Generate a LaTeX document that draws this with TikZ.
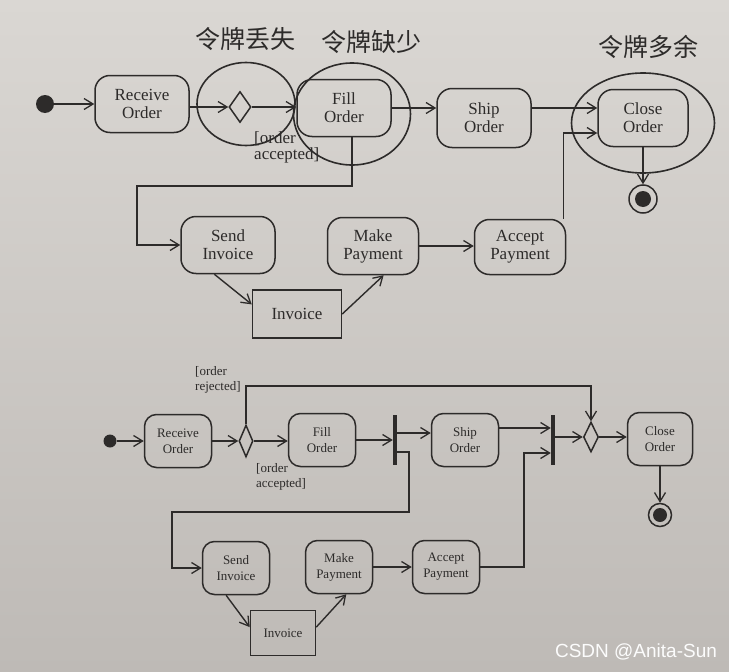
\documentclass[tikz,border=0pt]{standalone}
\usepackage{fontspec}
\setmainfont{Liberation Serif}
\newfontfamily\cjk{Noto Sans CJK SC}
\newfontfamily\wmfont{Liberation Sans}
\usetikzlibrary{arrows.meta, positioning, shapes.geometric}
\definecolor{paper}{RGB}{218,215,211}
\definecolor{paperdark}{RGB}{190,186,182}
\definecolor{ink}{RGB}{45,43,42}

\begin{document}
\begin{tikzpicture}[
    x=1pt, y=-1pt,
    every node/.style={text=ink},
    act node/.style={draw=ink, line width=1.5pt, rounded corners=15pt, align=center,
      minimum width=94pt, minimum height=57pt, inner sep=0pt,
      font=\fontsize{17}{18}\selectfont},
    small act/.style={act node, rounded corners=12pt, minimum width=67pt,
      minimum height=53pt, font=\fontsize{13}{16}\selectfont},
    obj node/.style={draw=ink, line width=1.5pt, inner sep=0pt, minimum width=89pt,
      minimum height=48pt, font=\fontsize{17}{18}\selectfont},
    dec node/.style={diamond, draw=ink, line width=1.5pt, inner sep=0pt,
      minimum width=22pt, minimum height=31pt},
    bar node/.style={fill=ink, inner sep=0pt, minimum width=4pt, minimum height=50pt},
    start node/.style={circle, fill=ink, inner sep=0pt},
    end node/.style={circle, draw=ink, line width=1.5pt, inner sep=0pt,
      path picture={\fill[ink] (path picture bounding box.center) circle (#1);}},
    end node/.default=8pt,
    ring/.style={ellipse, draw=ink, line width=1.6pt, inner sep=0pt},
    guard/.style={align=left, inner sep=0pt, anchor=north west},
    flow/.style={draw=ink, line width=1.4pt,
      -{Straight Barb[length=9pt, width=11pt, line width=1.3pt]}},
    every edge/.style={flow}
  ]
  % Background
  \shade[top color=paper, bottom color=paperdark] (0,0) rectangle (729,672);
  \useasboundingbox (0,0) rectangle (729,672);

  % Nodes, first diagram
  \node[start node, minimum size=18pt] (Start1) at (45,104) {};
  \node[act node] (Recv1) at (142,104) {Receive\\Order};
  \node[dec node] (Dec1) at (240,107) {};
  \node[act node] (Fill1) at (344,108) {Fill\\Order};
  \node[act node, minimum height=59pt] (Ship1) at (484,118) {Ship\\Order};
  \node[act node, minimum width=90pt] (Close1) at (643,118) {Close\\Order};
  \node[end node=8pt, minimum size=28pt] (End1) at (643,199) {};
  \node[act node] (Send1) at (228,245) {Send\\Invoice};
  \node[act node, minimum width=91pt] (Pay1) at (373,246) {Make\\Payment};
  \node[act node, minimum width=91pt, minimum height=55pt] (Acc1) at (520,247) {Accept\\Payment};
  \node[obj node] (Inv1) at (297,314) {Invoice};
  \node[guard, font=\fontsize{17}{16}\selectfont] (AccLbl1) at (254,132) {[order\\accepted]};
  \coordinate (Turn1) at (137,186);

  % Token rings and their labels
  \node[ring, minimum width=98pt, minimum height=83pt] (Ring1) at (246,104) {};
  \node[ring, minimum width=117pt, minimum height=102pt] (Ring2) at (352,114) {};
  \node[ring, minimum width=143pt, minimum height=100pt] (Ring3) at (643,123) {};
  \node[font=\cjk\fontsize{25}{25}\selectfont] (Lost) at (245,39) {令牌丢失};
  \node[font=\cjk\fontsize{25}{25}\selectfont] (Lack) at (371,42) {令牌缺少};
  \node[font=\cjk\fontsize{25}{25}\selectfont] (Extra) at (648,47) {令牌多余};

  % Edges, first diagram
  \draw (Start1) edge (Recv1);
  \draw (Recv1.east |- Dec1) edge (Dec1);
  \draw (Dec1) edge (Fill1.west |- Dec1);
  \draw (Fill1.east) edge (Fill1.east -| Ship1.west);
  \draw ([yshift=10pt]Ship1.east) edge ([yshift=10pt]Ship1.east -| Close1.west);
  \draw[flow] ([xshift=8pt]Fill1.south) |- (Turn1) |- (Send1.west);
  \draw[flow] ([xshift=-3pt]Acc1.north east) |- ([yshift=-15pt]Close1.west);
  \draw (Close1) edge (End1);
  \draw (Send1.245) edge (Inv1.168);
  \draw (Inv1.east) edge (Pay1.290);
  \draw (Pay1.east) edge (Pay1.east -| Acc1.west);

  % Nodes, second diagram
  \node[start node, minimum size=13pt] (Start2) at (110,441) {};
  \node[small act] (Recv2) at (178,441) {Receive\\Order};
  \node[dec node, minimum width=14pt, minimum height=32pt] (Dec2) at (246,441) {};
  \node[small act] (Fill2) at (322,440) {Fill\\Order};
  \node[bar node] (Fork2) at (395,440) {};
  \node[small act] (Ship2) at (465,440) {Ship\\Order};
  \node[bar node] (Join2) at (553,440) {};
  \node[dec node, minimum width=15pt, minimum height=30pt] (Merge2) at (591,437) {};
  \node[small act, minimum width=65pt] (Close2) at (660,439) {Close\\Order};
  \node[end node=7pt, minimum size=23pt] (End2) at (660,515) {};
  \node[small act] (Send2) at (236,568) {Send\\Invoice};
  \node[small act] (Pay2) at (339,567) {Make\\Payment};
  \node[small act] (Acc2) at (446,567) {Accept\\Payment};
  \node[obj node, minimum width=65pt, minimum height=45pt,
    font=\fontsize{13}{16}\selectfont] (Inv2) at (283,633) {Invoice};
  \node[guard, font=\fontsize{13}{15}\selectfont] (RejLbl2) at (195,366) {[order\\rejected]};
  \node[guard, font=\fontsize{13}{15}\selectfont] (AccLbl2) at (256,463) {[order\\accepted]};
  \coordinate (Turn2) at (409,512);
  \coordinate (Turn3) at (172,512);
  \coordinate (Turn4) at (524,453);
  \coordinate (Turn5) at (591,386);

  % Edges, second diagram
  \draw (Start2) edge (Recv2);
  \draw (Recv2) edge (Dec2);
  \draw (Dec2) edge (Dec2 -| Fill2.west);
  \draw (Fill2) edge (Fork2);
  \draw ([yshift=7pt]Fork2.east) edge ([yshift=7pt]Fork2.east -| Ship2.west);
  \draw[flow] ([yshift=-12pt]Fork2.east) -| (Turn2) -- (Turn3) |- (Send2.west);
  \draw ([yshift=12pt]Ship2.east) edge ([yshift=12pt]Ship2.east -| Join2.west);
  \draw[flow] (Acc2.east) -| (Turn4) -- (Turn4 -| Join2.west);
  \draw (Join2.east |- Merge2) edge (Merge2);
  \draw (Merge2) edge (Merge2 -| Close2.west);
  \draw (Close2) edge (End2);
  \draw[flow] (Dec2.north) |- (Turn5) -- (Merge2.north);
  \draw (Send2.250) edge (Inv2.170);
  \draw (Inv2.10) edge (Pay2.285);
  \draw (Pay2.east) edge (Pay2.east -| Acc2.west);

  % Watermark
  \node[text=white!93!paper, font=\wmfont\fontsize{19}{19}\selectfont] (Mark) at (636,652) {CSDN @Anita-Sun};
\end{tikzpicture}
\end{document}
